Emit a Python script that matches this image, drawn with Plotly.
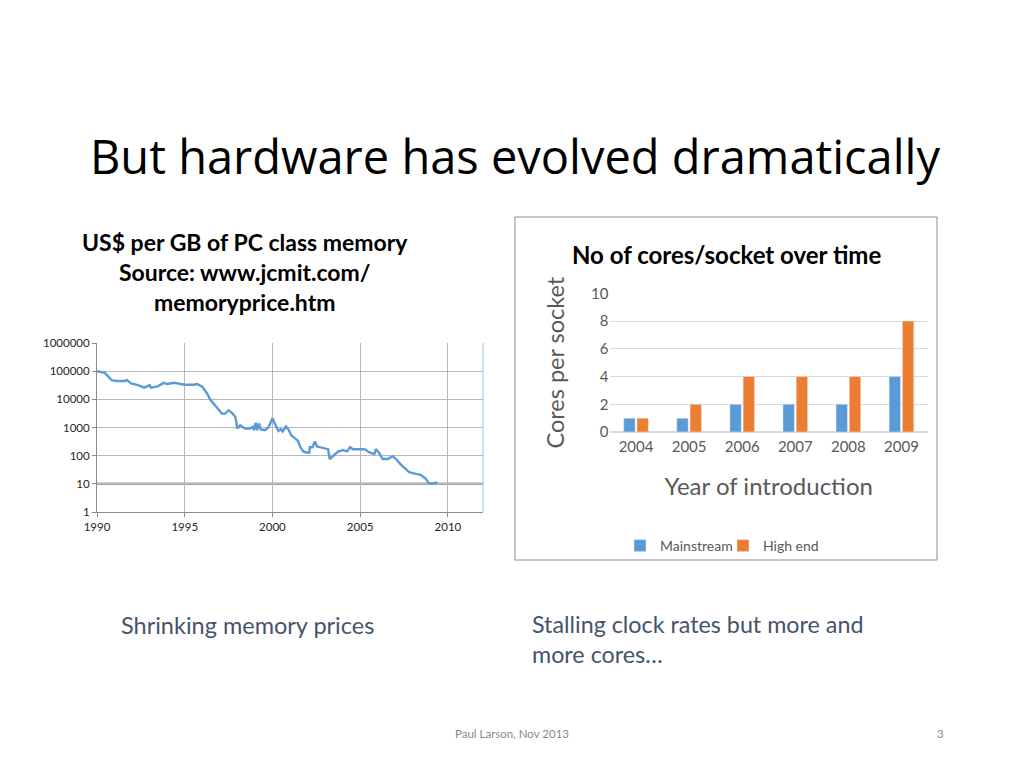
import plotly.graph_objects as go

# ---------------- data ----------------
mem_years = [1990.0, 1990.45, 1990.83, 1991.1, 1991.58, 1991.7, 1991.95, 1992.33, 1992.7, 1993.0,
             1993.08, 1993.46, 1993.8, 1994.0, 1994.4, 1994.77, 1995.0, 1995.5, 1995.7, 1996.0,
             1996.28, 1996.47, 1996.65, 1996.88, 1997.12, 1997.3, 1997.5, 1997.69, 1997.88, 1998.0,
             1998.16, 1998.44, 1998.72, 1998.87, 1998.95, 1999.04, 1999.13, 1999.23, 1999.34, 1999.57,
             1999.77, 2000.0, 2000.15, 2000.34, 2000.47, 2000.58, 2000.77, 2000.9, 2001.09, 2001.28,
             2001.47, 2001.57, 2001.75, 2001.94, 2002.1, 2002.13, 2002.28, 2002.42, 2002.55, 2002.8,
             2003.17, 2003.26, 2003.45, 2003.74, 2004.02, 2004.25, 2004.43, 2004.58, 2005.0, 2005.25,
             2005.53, 2005.81, 2005.9, 2006.06, 2006.28, 2006.57, 2006.85, 2007.04, 2007.32, 2007.6,
             2007.79, 2008.17, 2008.45, 2008.74, 2008.92, 2009.1, 2009.4]
mem_price = [100000, 87000, 48000, 45000, 45000, 48000, 36500, 32000, 26000, 32000,
             26000, 29000, 38500, 35000, 38500, 34000, 33000, 33000, 35000, 28000,
             16000, 9400, 7100, 4700, 3100, 3100, 4100, 3300, 2400, 920,
             1200, 920, 920, 1050, 800, 1470, 800, 1400, 850, 800,
             1000, 2130, 1300, 760, 870, 720, 1080, 870, 510, 420,
             320, 210, 142, 130, 130, 200, 200, 320, 210, 190,
             170, 76, 100, 140, 158, 142, 200, 170, 170, 170,
             130, 115, 170, 130, 76, 76, 95, 76, 48, 34,
             26, 22.5, 21, 15, 10.4, 10.4, 11.2]

log_tick_vals = [1, 10, 100, 1000, 10000, 100000, 1000000]
log_tick_text = ["1", "10", "100", "1000", "10000", "100000", "1000000"]
mem_year_ticks = [1990, 1995, 2000, 2005, 2010]
ref_level = 10

core_years = ["2004", "2005", "2006", "2007", "2008", "2009"]
mainstream = [1, 1, 2, 2, 2, 4]
high_end = [1, 2, 4, 4, 4, 8]

BLUE = "#5B9BD5"
ORANGE = "#ED7D31"
W, H = 1024, 768
OFF = 8  # page body margin


def px(x):
    return (x - OFF) / W


def py(y):
    return 1 - (y - OFF) / H


fig = go.Figure()

# ---------------- left: memory price ----------------
fig.add_trace(go.Scatter(
    x=mem_years, y=mem_price, mode="lines",
    line=dict(color=BLUE, width=2.4), showlegend=False,
    xaxis="x", yaxis="y"))

# ---------------- right: cores ----------------
fig.add_trace(go.Bar(name="Mainstream", x=core_years, y=mainstream,
                     marker_color=BLUE, xaxis="x2", yaxis="y2"))
fig.add_trace(go.Bar(name="High end", x=core_years, y=high_end,
                     marker_color=ORANGE, xaxis="x2", yaxis="y2"))

fig.update_layout(
    width=W, height=H, autosize=False,
    margin=dict(l=0, r=0, t=0, b=0, pad=0, autoexpand=False),
    paper_bgcolor="white", plot_bgcolor="white",
    font=dict(family="Lato", color="#404040"),
    barmode="group", bargap=0.5, bargroupgap=0.14,
    xaxis=dict(domain=[px(97), px(483)], range=[1990, 2012],
               tickvals=mem_year_ticks, showgrid=True, gridcolor="#B8B8B8",
               gridwidth=1, showline=True, linecolor="#8C8C8C", linewidth=1,
               ticks="outside", ticklen=4, tickcolor="#8C8C8C",
               tickfont=dict(size=11.5, color="#262626"), zeroline=False,
               anchor="y", automargin=False),
    yaxis=dict(domain=[py(512), py(343)], type="log", range=[0, 6],
               tickvals=log_tick_vals, ticktext=log_tick_text,
               showgrid=True, gridcolor="#B8B8B8", gridwidth=1,
               showline=True, linecolor="#8C8C8C", linewidth=1,
               ticks="outside", ticklen=4, tickcolor="#8C8C8C",
               tickfont=dict(size=11.5, color="#262626"), zeroline=False,
               anchor="x", automargin=False),
    xaxis2=dict(domain=[px(609.5), px(928)], showgrid=False, showline=False,
                ticks="", tickfont=dict(size=15, color="#595959"),
                ticklabelstandoff=4,
                anchor="y2", automargin=False,
                title=dict(text="Year of introduction",
                           font=dict(size=24, color="#595959"), standoff=24)),
    yaxis2=dict(domain=[py(432), py(293.3)], range=[0, 10], dtick=2,
                showgrid=True, gridcolor="#D9D9D9", zeroline=True,
                zerolinecolor="#D9D9D9", showline=False, ticks="",
                tickfont=dict(size=15, color="#595959"), anchor="x2",
                automargin=False,
                title=dict(text="Cores per socket",
                           font=dict(size=23.5, color="#595959"), standoff=19)),
    legend=dict(orientation="h", x=px(620), y=py(546), xanchor="left",
                yanchor="middle", font=dict(size=14, color="#595959"),
                itemwidth=30, entrywidth=58, entrywidthmode="pixels",
                tracegroupgap=0, bgcolor="rgba(0,0,0,0)"),
)

# reference line at 10 and right border of the left chart
fig.add_shape(type="line", xref="x domain", yref="y", x0=0, x1=1,
              y0=ref_level, y1=ref_level,
              line=dict(color="#A6A6A6", width=2.5), layer="below")
fig.add_shape(type="line", xref="x domain", yref="y domain", x0=1, x1=1, y0=0, y1=1,
              line=dict(color="#9DC3E6", width=1))

# frame around the right chart
fig.add_shape(type="rect", xref="paper", yref="paper",
              x0=px(515), x1=px(937), y0=py(560), y1=py(217),
              line=dict(color="#8C8C8C", width=1), fillcolor="rgba(0,0,0,0)",
              layer="below")

ann = [
    dict(text="But hardware has evolved dramatically", x=px(515), y=py(156),
         font=dict(family="Open Sans", size=47, color="#000000")),
    dict(text="<b>US$ per GB of PC class memory<br>Source: www.jcmit.com/<br>memoryprice.htm</b>",
         x=px(245), y=py(272), font=dict(family="Lato", size=23, color="#000000")),
    dict(text="<b>No of cores/socket over time</b>", x=px(726), y=py(254),
         font=dict(family="Lato", size=24, color="#000000")),
    dict(text="Shrinking memory prices", x=px(119), y=py(625), xanchor="left",
         font=dict(family="Lato", size=23.5, color="#44546A")),
    dict(text="Stalling clock rates but more and<br>more cores…", x=px(530), y=py(638.5),
         xanchor="left", align="left",
         font=dict(family="Lato", size=23.3, color="#44546A")),
    dict(text="Paul Larson, Nov 2013", x=px(512), y=py(733),
         font=dict(family="Lato", size=11.5, color="#898989")),
    dict(text="3", x=px(940), y=py(733),
         font=dict(family="Lato", size=11.5, color="#898989")),
]
for a in ann:
    a.setdefault("xanchor", "center")
    fig.add_annotation(xref="paper", yref="paper", yanchor="middle",
                       showarrow=False, **a)

fig.write_html("out.html")
